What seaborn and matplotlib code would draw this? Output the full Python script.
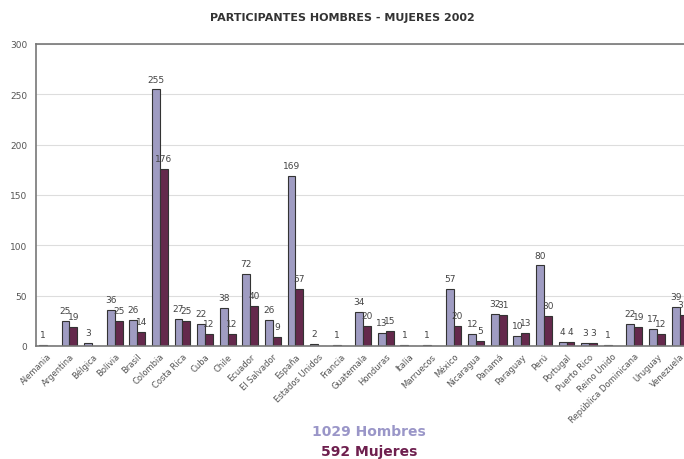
import pandas as pd
import numpy as np
import matplotlib
matplotlib.use("Agg")
import matplotlib.pyplot as plt
import seaborn as sns

paises = ["Alemania", "Argentina", "Bélgica", "Bolivia", "Brasil", "Colombia",
          "Costa Rica", "Cuba", "Chile", "Ecuador", "El Salvador", "España",
          "Estados Unidos", "Francia", "Guatemala", "Honduras", "Italia",
          "Marruecos", "México", "Nicaragua", "Panamá", "Paraguay", "Perú",
          "Portugal", "Puerto Rico", "Reino Unido", "República Dominicana",
          "Uruguay", "Venezuela"]
hombres = [1, 25, 3, 36, 26, 255, 27, 22, 38, 72, 26, 169, 2, 1, 34, 13, 1,
           1, 57, 12, 32, 10, 80, 4, 3, 1, 22, 17, 39]
mujeres = [0, 19, 0, 25, 14, 176, 25, 12, 12, 40, 9, 57, 0, 0, 20, 15, 0,
           0, 20, 5, 31, 13, 30, 4, 3, 0, 19, 12, 31]

col_h = "#9a96c8"
col_m = "#6e1f4e"

df = pd.DataFrame({
    "Pais": paises * 2,
    "Valor": hombres + mujeres,
    "Sexo": ["Hombres"] * len(paises) + ["Mujeres"] * len(paises),
})

sns.set_style("white")
fig = plt.figure(figsize=(6.84, 4.6), dpi=100)
ax = fig.add_axes([0.052, 0.2457, 0.958, 0.6565])

sns.barplot(data=df, x="Pais", y="Valor", hue="Sexo", order=paises,
            palette=[col_h, col_m], width=0.7, edgecolor="#333333",
            linewidth=0.8, ax=ax, legend=False)

for cont, vals in zip(ax.containers, [hombres, mujeres]):
    labs = [str(v) if v > 0 else "" for v in vals]
    ax.bar_label(cont, labels=labs, padding=4, fontsize=6.5, color="#444444")

ax.set_ylim(0, 300)
ax.set_xlim(-0.5, len(paises) - 0.5)
ax.set_yticks(range(0, 301, 50))
ax.yaxis.grid(True, color="#dddddd", linewidth=0.8)
ax.set_axisbelow(True)
ax.set_xlabel("")
ax.set_ylabel("")
ax.tick_params(axis="y", labelsize=6.5, colors="#555555", length=0, pad=6)
ax.tick_params(axis="x", labelsize=6, colors="#555555", length=0, pad=4)
plt.setp(ax.get_xticklabels(), rotation=45, ha="right", rotation_mode="anchor")
for s in ["left", "top", "bottom"]:
    ax.spines[s].set_color("#777777")
    ax.spines[s].set_linewidth(1.2)
ax.spines["right"].set_visible(False)

fig.text(0.5, 0.96, "PARTICIPANTES HOMBRES - MUJERES 2002", ha="center",
         va="center", fontsize=8, fontweight="bold", color="#333333")
fig.text(0.54, 0.06, "1029 Hombres", ha="center", va="center", fontsize=10,
         fontweight="bold", color=col_h)
fig.text(0.54, 0.017, "592 Mujeres", ha="center", va="center", fontsize=10,
         fontweight="bold", color=col_m)

fig.savefig("out.png", dpi=100)
